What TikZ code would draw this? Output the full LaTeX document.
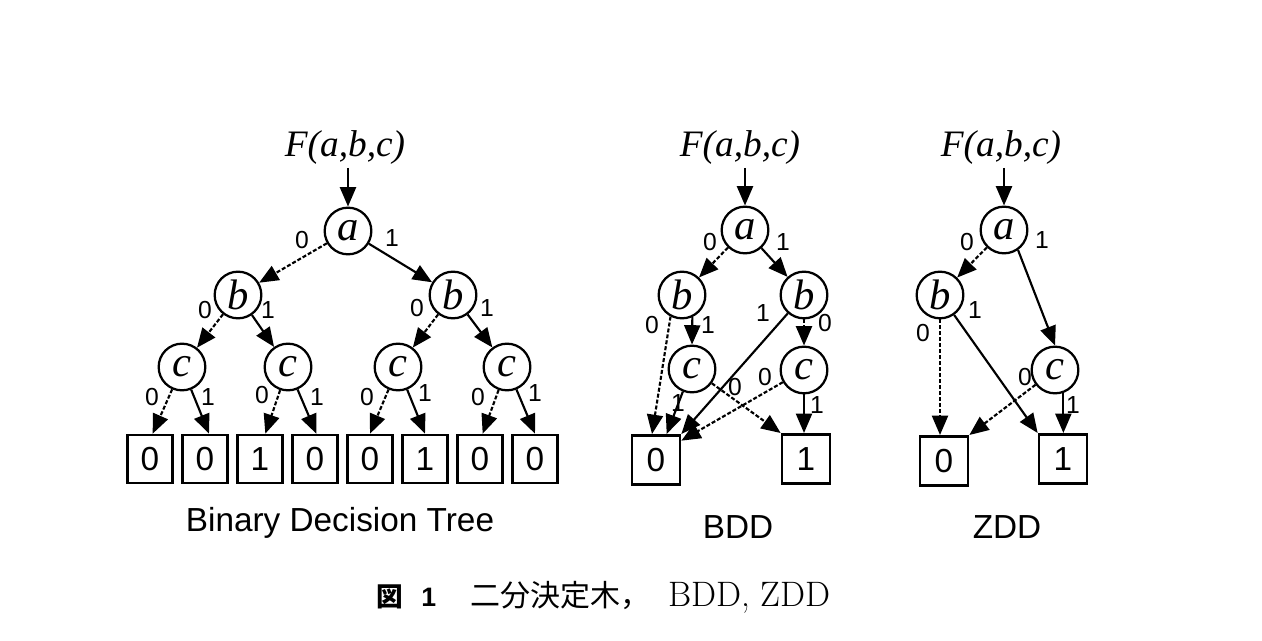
\documentclass[tikz,border=0pt]{standalone}
\usepackage{fontspec}
\usetikzlibrary{arrows.meta}
\newfontfamily\tms{Liberation Serif}
\newfontfamily\arial{Liberation Sans}
\newfontfamily\cjk{Noto Sans CJK JP}
\tikzset{
  vnode/.style={circle,draw,line width=1.7pt,minimum size=35pt,inner sep=0pt,
    font=\tms\itshape\fontsize{32}{32}\selectfont},
  leafbox/.style={rectangle,draw,line width=2pt,minimum width=33.75pt,minimum height=36pt,
    inner sep=0pt,font=\arial\fontsize{25}{25}\selectfont},
  bigleaf/.style={leafbox,minimum width=36pt,minimum height=37pt},
  lbl/.style={inner sep=0pt,font=\arial\fontsize{18.5}{18.5}\selectfont},
  hiedge/.style={draw,line width=1.6pt,-{Triangle[length=14.5pt,width=12pt]}},
  loedge/.style={hiedge,dash pattern=on 3pt off 1.5pt},
  ftext/.style={inner sep=0pt,anchor=base,font=\tms\itshape\fontsize{28}{28}\selectfont},
  titletext/.style={inner sep=0pt,anchor=base,font=\arial\fontsize{25}{25}\selectfont},
}
\begin{document}
\begin{tikzpicture}[x=0.75pt,y=-0.75pt]
\useasboundingbox (0,0) rectangle (1262,641);
% ---------------- Binary decision tree ----------------
\node[ftext] (tf) at (345,157) {F(a,b,c)};
\node[vnode] (ta) at (348,231) {a};
\node[vnode] (tb1) at (238,295) {b};
\node[vnode] (tb2) at (453,295) {b};
\node[vnode] (tc1) at (182,367) {c};
\node[vnode] (tc2) at (288,367) {c};
\node[vnode] (tc3) at (398,367) {c};
\node[vnode] (tc4) at (507,367) {c};
\node[leafbox] (tl1) at (150,459) {0};
\node[leafbox] (tl2) at (205,459) {0};
\node[leafbox] (tl3) at (260,459) {1};
\node[leafbox] (tl4) at (315,459) {0};
\node[leafbox] (tl5) at (370,459) {0};
\node[leafbox] (tl6) at (425,459) {1};
\node[leafbox] (tl7) at (480,459) {0};
\node[leafbox] (tl8) at (535,459) {0};
\draw[hiedge] ([yshift=-2pt]tf.south -| ta.north) -- (ta.north);
\draw[loedge] (ta) -- (tb1);
\draw[hiedge] (ta) -- (tb2);
\draw[loedge] (tb1) -- (tc1);
\draw[hiedge] (tb1) -- (tc2);
\draw[loedge] (tb2) -- (tc3);
\draw[hiedge] (tb2) -- (tc4);
\draw[loedge] (tc1) -- ([xshift=2pt]tl1.north);
\draw[hiedge] (tc1) -- ([xshift=3pt]tl2.north);
\draw[loedge] (tc2) -- ([xshift=4pt]tl3.north);
\draw[hiedge] (tc2) -- ([xshift=1pt]tl4.north);
\draw[loedge] (tc3) -- (tl5.north);
\draw[hiedge] (tc3) -- (tl6.north);
\draw[loedge] (tc4) -- ([xshift=2pt]tl7.north);
\draw[hiedge] (tc4) -- (tl8.north);
\node[lbl] (tla0) at (302,240) {0};
\node[lbl] (tla1) at (392,238) {1};
\node[lbl] (tlb10) at (205,310) {0};
\node[lbl] (tlb11) at (268,310) {1};
\node[lbl] (tlb20) at (417,308) {0};
\node[lbl] (tlb21) at (487,308) {1};
\node[lbl] (tlc10) at (152,397) {0};
\node[lbl] (tlc11) at (208,397) {1};
\node[lbl] (tlc20) at (262,395) {0};
\node[lbl] (tlc21) at (317,397) {1};
\node[lbl] (tlc30) at (367,397) {0};
\node[lbl] (tlc31) at (425,393) {1};
\node[lbl] (tlc40) at (478,397) {0};
\node[lbl] (tlc41) at (535,393) {1};
\node[titletext] (ttitle) at (340,531) {Binary Decision Tree};
% ---------------- BDD ----------------
\node[ftext] (bf) at (740,157) {F(a,b,c)};
\node[vnode] (ba) at (745,230) {a};
\node[vnode] (bb1) at (682,295) {b};
\node[vnode] (bb2) at (804,295) {b};
\node[vnode] (bc1) at (692,369) {c};
\node[vnode] (bc2) at (804,370) {c};
\node[bigleaf] (b0) at (656,460) {0};
\node[bigleaf] (b1) at (806,459) {1};
\draw[hiedge] ([yshift=-2pt]bf.south -| ba.north) -- (ba.north);
\draw[loedge] (ba) -- (bb1);
\draw[hiedge] (ba) -- (bb2);
\draw[hiedge] (bb1.-65) -- (bc1.north);
\draw[loedge] (bb1.-118) -- ([xshift=-3pt]b0.north);
\draw[hiedge] (bc1.-112) -- ([xshift=8pt]b0.north);
\draw[hiedge] (bb2) -- (b0.north east);
\draw[loedge] (bb2.south) -- (bc2.north);
\draw[loedge] (bc1) -- (b1.north west);
\draw[loedge] (bc2) -- ([yshift=-5pt]b0.north east);
\draw[hiedge] (bc2.south) -- (bc2.south |- b1.north);
\node[lbl] (bla0) at (710,242) {0};
\node[lbl] (bla1) at (783,242) {1};
\node[lbl] (blb10) at (652,325) {0};
\node[lbl] (blb11) at (708,325) {1};
\node[lbl] (blb21) at (763,313) {1};
\node[lbl] (blb20) at (825,323) {0};
\node[lbl] (blc20) at (765,377) {0};
\node[lbl] (blc10) at (735,387) {0};
\node[lbl] (blc11) at (678,403) {1};
\node[lbl] (blc21) at (817,405) {1};
\node[titletext] (btitle) at (738,538) {BDD};
% ---------------- ZDD ----------------
\node[ftext] (zf) at (1001,157) {F(a,b,c)};
\node[vnode] (za) at (1004,230) {a};
\node[vnode] (zb) at (940,295) {b};
\node[vnode] (zc) at (1055,370) {c};
\node[bigleaf] (z0) at (944,461) {0};
\node[bigleaf] (z1) at (1063,459) {1};
\draw[hiedge] ([yshift=-2pt]zf.south -| za.north) -- (za.north);
\draw[loedge] (za) -- (zb);
\draw[hiedge] (za.-55) -- (zc.north);
\draw[loedge] (zb.south) -- (zb.south |- z0.north);
\draw[hiedge] (zb) -- (z1.north west);
\draw[loedge] (zc) -- (z0.north east);
\draw[hiedge] (zc.-70) -- (zc.-70 |- z1.north);
\node[lbl] (zla0) at (967,242) {0};
\node[lbl] (zla1) at (1042,240) {1};
\node[lbl] (zlb0) at (923,333) {0};
\node[lbl] (zlb1) at (975,310) {1};
\node[lbl] (zlc0) at (1025,377) {0};
\node[lbl] (zlc1) at (1073,405) {1};
\node[titletext] (ztitle) at (1007,538) {ZDD};
% ---------------- caption ----------------
\node[inner sep=0pt,anchor=base west,font=\cjk\bfseries\fontsize{20}{20}\selectfont] (capfig) at (376,606) {図};
\node[inner sep=0pt,anchor=base west,font=\arial\bfseries\fontsize{20}{20}\selectfont] (capnum) at (421,606) {1};
\node[inner sep=0pt,anchor=base west,font=\cjk\fontsize{22.5}{22.5}\selectfont] (capjp) at (470,606) {二分決定木，};
\node[inner sep=0pt,anchor=base west,font=\fontsize{26.5}{26.5}\selectfont] (capen) at (668,606) {BDD, ZDD};
\end{tikzpicture}
\end{document}
